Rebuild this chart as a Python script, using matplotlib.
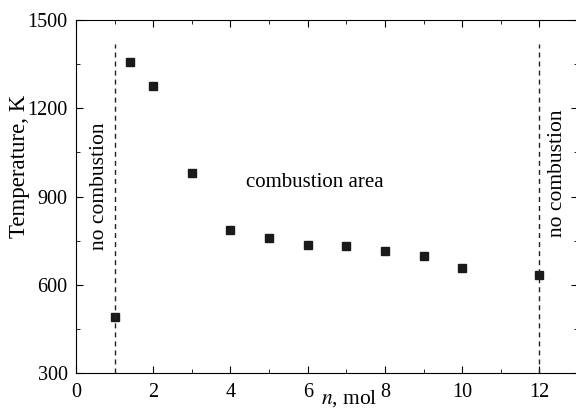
import matplotlib
matplotlib.use("Agg")
import matplotlib.pyplot as plt
from matplotlib.ticker import MultipleLocator

# data
n_mol = [1, 1.4, 2, 3, 4, 5, 6, 7, 8, 9, 10, 12]
temp_K = [492, 1357, 1276, 981, 786, 759, 735, 732, 715, 699, 656, 632]
limits = [1, 12]

plt.rcParams['font.family'] = ['Liberation Serif', 'DejaVu Serif']
plt.rcParams['mathtext.fontset'] = 'stix'

fig = plt.figure(figsize=(5.76, 4.09), dpi=100)
ax = fig.add_axes([76/576, 36/409, 502/576, 353/409])

ax.plot(n_mol, temp_K, 's', color='#1a1a1a', markersize=6.3, clip_on=False)
for x in limits:
    ax.plot([x, x], [300, 1420], '--', color='#222222', lw=1.0, dashes=(3.6, 2.9))

ax.text(0.62, 935, 'no combustion', rotation=90, ha='center', va='center', fontsize=15.5)
ax.text(12.48, 980, 'no combustion', rotation=90, ha='center', va='center', fontsize=15.5)
ax.text(6.18, 946, 'combustion area', ha='center', va='center', fontsize=15)

ax.set_xlim(0, 13)
ax.set_ylim(300, 1500)
ax.xaxis.set_major_locator(MultipleLocator(2))
ax.xaxis.set_minor_locator(MultipleLocator(1))
ax.yaxis.set_major_locator(MultipleLocator(300))
ax.yaxis.set_minor_locator(MultipleLocator(150))
ax.tick_params(which='both', direction='in', top=True, right=True, labelsize=14.5)
ax.tick_params(axis='x', pad=7)
ax.tick_params(axis='y', pad=6)
ax.tick_params(which='major', length=5)
ax.tick_params(which='minor', length=3)

ax.set_xlabel(r'$n$, mol', fontsize=15.5)
ax.xaxis.set_label_coords(0.545, -0.042)
ax.set_ylabel('Temperature, K', fontsize=16.5)
ax.yaxis.set_label_coords(-0.092, 0.584)

fig.savefig('out.png', dpi=100)
